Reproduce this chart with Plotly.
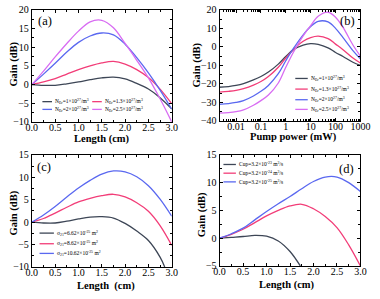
import plotly.graph_objects as go

# ---------------- data ----------------
len_x = [0, 0.25, 0.5, 0.75, 1.0, 1.25, 1.5, 1.75, 2.0, 2.25, 2.5, 2.75, 3.0]

# (a) gain vs length for different Er concentrations
a_names = ["N<sub>Er</sub>=1×10<sup>27</sup>/m<sup>3</sup>",
           "N<sub>Er</sub>=1.3×10<sup>27</sup>/m<sup>3</sup>",
           "N<sub>Er</sub>=2×10<sup>27</sup>/m<sup>3</sup>",
           "N<sub>Er</sub>=2.5×10<sup>27</sup>/m<sup>3</sup>"]
a_n1 = [0, -0.2, -0.2, 0.2, 0.7, 1.3, 1.8, 2.0, 1.5, 0.3, -1.2, -3.5, -6.5]
a_n13 = [0, 0.7, 1.6, 2.8, 4.0, 5.0, 5.8, 6.2, 5.5, 4.0, 1.9, -1.2, -5.1]
a_n2 = [0, 2.8, 5.7, 8.7, 11.3, 13.0, 13.8, 13.3, 10.8, 7.2, 3.1, -1.5, -6.6]
a_n25 = [0, 3.6, 7.4, 11.0, 14.3, 16.8, 17.2, 15.2, 11.0, 6.5, 1.8, -3.8, -10.0]

# (b) gain vs pump power
pump_x = [0.002, 0.005, 0.01, 0.02, 0.05, 0.1, 0.2, 0.5, 1, 2, 5, 10, 20, 50, 100, 200, 500, 1000]
b_names = ["N<sub>Er</sub>=1×10<sup>27</sup>/m<sup>3</sup>",
           "N<sub>Er</sub>=1.3×10<sup>27</sup>/m<sup>3</sup>",
           "N<sub>Er</sub>=2×10<sup>27</sup>/m<sup>3</sup>",
           "N<sub>Er</sub>=2.5×10<sup>27</sup>/m<sup>3</sup>"]
b_n1 = [-21.8, -21.4, -20.8, -19.8, -17.8, -16.0, -13.6, -9.3, -5.2, -1.5, 1.0, 1.8, 1.4, -0.5, -3.0, -5.2, -8.3, -10.0]
b_n13 = [-24.4, -24.0, -23.5, -22.5, -20.6, -18.7, -16.0, -11.0, -6.0, -1.5, 3.0, 5.0, 5.8, 4.5, 1.5, -1.5, -6.0, -8.7]
b_n2 = [-31.0, -30.6, -30.0, -29.0, -26.5, -24.0, -20.8, -14.5, -7.5, -1.0, 6.5, 11.0, 13.8, 13.5, 10.0, 5.0, -2.0, -6.5]
b_n25 = [-35.8, -35.5, -35.0, -34.0, -31.5, -29.0, -26.0, -19.5, -11.0, -3.0, 6.0, 11.5, 16.5, 18.7, 16.0, 10.5, 1.0, -5.0]
pump_ticks = [0.01, 0.1, 1, 10, 100, 1000]
pump_ticktext = ["0.01", "0.1", "1", "10", "100", "1000"]

# (c) gain vs length for emission cross sections
c_names = ["σ<sub>21</sub>=6.62×10<sup>-25</sup> m<sup>2</sup>",
           "σ<sub>21</sub>=8.62×10<sup>-25</sup> m<sup>2</sup>",
           "σ<sub>21</sub>=10.62×10<sup>-25</sup> m<sup>2</sup>"]
c_x_s1 = [0, 0.25, 0.5, 0.75, 1.0, 1.25, 1.5, 1.75, 2.0, 2.25, 2.5, 2.75, 2.85]
c_s1 = [0, -0.2, -0.2, 0.2, 0.7, 1.1, 1.2, 0.9, -0.3, -2.0, -4.1, -7.8, -10.0]
c_s2 = [0, 0.8, 2.0, 3.3, 4.5, 5.3, 5.9, 6.2, 5.6, 4.3, 2.4, -0.8, -5.2]
c_s3 = [0, 1.6, 3.5, 5.6, 7.6, 9.3, 10.7, 11.4, 11.2, 10.1, 8.1, 5.1, 1.3]

# (d) gain vs length for upconversion coefficients
d_names = ["Cup=3.2×10<sup>-23</sup> m<sup>3</sup>/s",
           "Cup=3.2×10<sup>-24</sup> m<sup>3</sup>/s",
           "Cup=3.2×10<sup>-25</sup> m<sup>3</sup>/s"]
d_x_c1 = [0, 0.25, 0.5, 0.75, 1.0, 1.25, 1.5, 1.72]
d_c1 = [0, 0.15, 0.3, 0.5, 0.35, -0.5, -2.4, -5.0]
d_c2 = [0, 0.7, 1.6, 2.8, 4.0, 5.0, 5.8, 6.1, 5.3, 3.9, 1.9, -1.2, -5.0]
d_c3 = [0, 0.8, 1.8, 3.3, 4.8, 6.2, 7.5, 8.9, 10.2, 11.0, 11.0, 10.0, 8.4]

# ---------------- style ----------------
W, H = 380, 299
SERIF = "Times New Roman, Liberation Serif, DejaVu Serif, serif"
COLS = ["#3d4656", "#f23d78", "#5a68f0", "#d86cf2"]
LW = 1.3


def P(x, y):
    return x / W, 1 - y / H


fig = go.Figure()


def add(xs, ys, col, xa, ya):
    fig.add_trace(go.Scatter(x=xs, y=ys, mode="lines", line=dict(color=col, width=LW, shape="spline", smoothing=1.0),
                             xaxis=xa, yaxis=ya, showlegend=False, hoverinfo="skip"))


for ys, c in zip([a_n1, a_n13, a_n2, a_n25], COLS):
    add(len_x, ys, c, "x", "y")
for ys, c in zip([b_n1, b_n13, b_n2, b_n25], COLS):
    add(pump_x, ys, c, "x2", "y2")
add(c_x_s1, c_s1, COLS[0], "x3", "y3")
add(len_x, c_s2, COLS[1], "x3", "y3")
add(len_x, c_s3, COLS[2], "x3", "y3")
add(d_x_c1, d_c1, COLS[0], "x4", "y4")
add(len_x, d_c2, COLS[1], "x4", "y4")
add(len_x, d_c3, COLS[2], "x4", "y4")

tickfont = dict(family=SERIF, size=10, color="black")
titlefont = dict(family=SERIF, size=10.5, color="black")

common = dict(showline=True, linecolor="black", linewidth=1, mirror="ticks", ticks="inside",
              ticklen=3, tickwidth=1, tickcolor="black", showgrid=False, zeroline=False,
              tickfont=tickfont)

doms = {
    "a": ([27, 173], [5, 121]),
    "b": ([223, 370], [5, 120]),
    "c": ([27, 173], [155, 271]),
    "d": ([223, 370], [155, 270]),
}


def dom(key):
    (x0, x1), (y0, y1) = doms[key]
    return [x0 / W, x1 / W], [1 - y1 / H, 1 - y0 / H]


XSO = -4  # tick label standoff for x axes
lx = dict(range=[0, 3], dtick=0.5, tickformat=".1f", ticklabelstandoff=XSO,
          minor=dict(ticks="inside", ticklen=2, dtick=0.25, tickcolor="black"))

xa, ya = dom("a")
fig.update_layout(
    xaxis=dict(domain=xa, anchor="y", **lx, **common),
    yaxis=dict(domain=ya, anchor="x", range=[-10, 20], dtick=5,
               minor=dict(ticks="inside", ticklen=2, dtick=2.5, tickcolor="black"), **common),
)
xb, yb = dom("b")
fig.update_layout(
    xaxis2=dict(domain=xb, anchor="y2", type="log", range=[-2.66, 3.0], tickvals=pump_ticks,
                ticktext=pump_ticktext, ticklabelstandoff=XSO,
                minor=dict(ticks="inside", ticklen=2, dtick="D1", tickcolor="black"),
                **common),
    yaxis2=dict(domain=yb, anchor="x2", range=[-40, 20], dtick=10,
                minor=dict(ticks="inside", ticklen=2, dtick=5, tickcolor="black"), **common),
)
xc, yc = dom("c")
fig.update_layout(
    xaxis3=dict(domain=xc, anchor="y3", **lx, **common),
    yaxis3=dict(domain=yc, anchor="x3", range=[-10, 15], dtick=5,
                minor=dict(ticks="inside", ticklen=2, dtick=2.5, tickcolor="black"), **common),
)
xd, yd = dom("d")
fig.update_layout(
    xaxis4=dict(domain=xd, anchor="y4", **lx, **common),
    yaxis4=dict(domain=yd, anchor="x4", range=[-5, 15], dtick=5,
                minor=dict(ticks="inside", ticklen=2, dtick=2.5, tickcolor="black"), **common),
)

annotations = []
shapes = []

# axis titles
for txt, (px, py), ang in [
    ("<b>Gain (dB)</b>", (8, 61), -90),
    ("<b>Length (cm)</b>", (100, 139), 0),
    ("<b>Gain (dB)</b>", (199, 62), -90),
    ("<b>Pump power (mW)</b>", (300, 137), 0),
    ("<b>Gain (dB)</b>", (8, 215), -90),
    ("<b>Length  (cm)</b>", (104, 291), 0),
    ("<b>Gain (dB)</b>", (204, 217), -90),
    ("<b>Length (cm)</b>", (293, 290), 0),
]:
    x, y = P(px, py)
    annotations.append(dict(x=x, y=y, xref="paper", yref="paper", text=txt, showarrow=False, textangle=ang,
                            font=titlefont, xanchor="center", yanchor="middle"))

# panel labels
for txt, (px, py) in [("(a)", (41, 17)), ("(b)", (356, 17)), ("(c)", (40, 168)), ("(d)", (355, 170))]:
    x, y = P(px, py)
    annotations.append(dict(x=x, y=y, xref="paper", yref="paper", text=txt, showarrow=False,
                            font=dict(family=SERIF, size=12.5, color="black"), xanchor="center", yanchor="middle"))

LEGFONT = dict(family=SERIF, size=5.5, color="black")


def legend_entry(x0, x1, y, color, text):
    ax0, ay = P(x0, y)
    ax1, _ = P(x1, y)
    shapes.append(dict(type="line", xref="paper", yref="paper", x0=ax0, x1=ax1, y0=ay, y1=ay,
                       line=dict(color=color, width=LW)))
    tx, _ = P(x1 + 1.5, y)
    annotations.append(dict(x=tx, y=ay, xref="paper", yref="paper", text=text, showarrow=False,
                            font=LEGFONT, xanchor="left", yanchor="middle"))


# legend (a): two columns
legend_entry(38, 48, 100, COLS[0], a_names[0])
legend_entry(90, 100, 100, COLS[1], a_names[1])
legend_entry(38, 48, 108, COLS[2], a_names[2])
legend_entry(90, 100, 108, COLS[3], a_names[3])
# legend (b)
for i, yy in enumerate([76, 87, 98, 108]):
    legend_entry(302, 315, yy, COLS[i], b_names[i])
# legend (c)
for i, yy in enumerate([236, 247, 257]):
    legend_entry(35, 50, yy, COLS[i], c_names[i])
# legend (d)
for i, yy in enumerate([165, 174, 183]):
    legend_entry(227, 240, yy, COLS[i], d_names[i])

fig.update_layout(width=W, height=H, margin=dict(l=0, r=0, t=0, b=0),
                  paper_bgcolor="white", plot_bgcolor="white",
                  annotations=annotations, shapes=shapes, showlegend=False)

fig.write_html("out.html", config={"displayModeBar": False, "staticPlot": True},
               post_script="document.body.style.margin='0';document.body.style.overflow='hidden';")
